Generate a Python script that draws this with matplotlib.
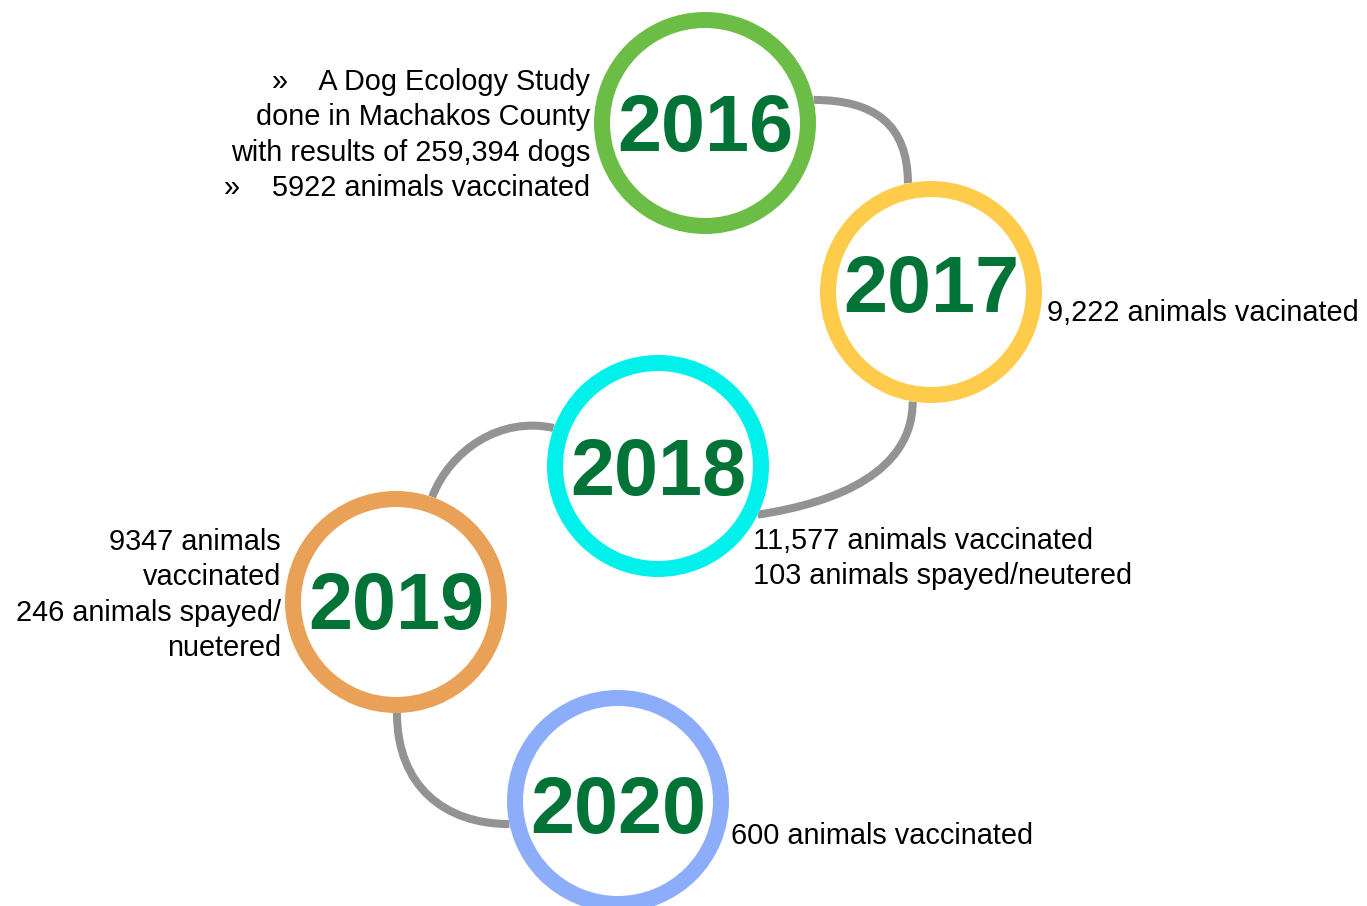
import numpy as np
import matplotlib.pyplot as plt
from matplotlib.patches import Wedge, Circle, PathPatch
from matplotlib.path import Path

# Datos
years = ["2016", "2017", "2018", "2019", "2020"]
ring_colors = ["#6cbd45", "#fecb4b", "#00f0eb", "#e9a057", "#8caefa"]
notes = [
    ["»    A Dog Ecology Study", "done in Machakos County",
     "with results of 259,394 dogs", "»    5922 animals vaccinated"],
    ["9,222 animals vacinated"],
    ["11,577 animals vaccinated", "103 animals spayed/neutered"],
    ["9347 animals", "vaccinated", "246 animals spayed/", "nuetered"],
    ["600 animals vaccinated"],
]

# Disposicion (pixeles)
centers = [(705, 123), (931, 292), (658, 466), (396, 602), (618, 801)]
year_dy = [28.5, 20, 29, 27, 32]
R = 111
ring_w = 16
# (x, baseline del primer renglon, alineacion)
note_pos = [(590, 90, "right"), (1047, 321, "left"), (753, 549, "left"),
            (281, 550, "right"), (731, 844, "left")]
line_h = 35.3

# conectores: (angulo salida, tangente salida, angulo llegada, tangente llegada)
links = [(-12, (62, 0), -102, (0, 58)),
         (99.5, (0, 70), 26, (-80, 12)),
         (-160, (-53, -12), -71, (-18, 47)),
         (89.5, (0, 73), 168, (65, 0))]

def on_circle(c, ang):
    a = np.radians(ang)
    return (c[0] + R * np.cos(a), c[1] + R * np.sin(a))

fig = plt.figure(figsize=(13.67, 9.06), dpi=100)
ax = fig.add_axes([0, 0, 1, 1])
ax.set_xlim(0, 1367)
ax.set_ylim(906, 0)
ax.axis('off')

for i, (a0, t0, a1, t1) in enumerate(links):
    p0 = on_circle(centers[i], a0)
    p3 = on_circle(centers[i + 1], a1)
    p1 = (p0[0] + t0[0], p0[1] + t0[1])
    p2 = (p3[0] - t1[0], p3[1] - t1[1])
    path = Path([p0, p1, p2, p3], [Path.MOVETO, Path.CURVE4, Path.CURVE4, Path.CURVE4])
    ax.add_patch(PathPatch(path, fill=False, edgecolor="#939393", lw=5.8,
                           capstyle='butt', zorder=1))

for yr, col, c, dy in zip(years, ring_colors, centers, year_dy):
    ax.add_patch(Circle(c, R, facecolor="white", edgecolor="none", zorder=2))
    ax.add_patch(Wedge(c, R, 0, 360, width=ring_w, facecolor=col,
                       edgecolor="none", zorder=3))
    ax.text(c[0], c[1] + dy, yr, ha="center", va="baseline", fontsize=57,
            fontweight="bold", family="Liberation Sans", color="#027337", zorder=4)

for lines, (x, y0, ha) in zip(notes, note_pos):
    for j, s in enumerate(lines):
        ax.text(x, y0 + j * line_h, s, ha=ha, va="baseline", fontsize=20.8,
                family="Liberation Sans", color="black", zorder=4)

plt.savefig("out.png", dpi=100, facecolor="white")
